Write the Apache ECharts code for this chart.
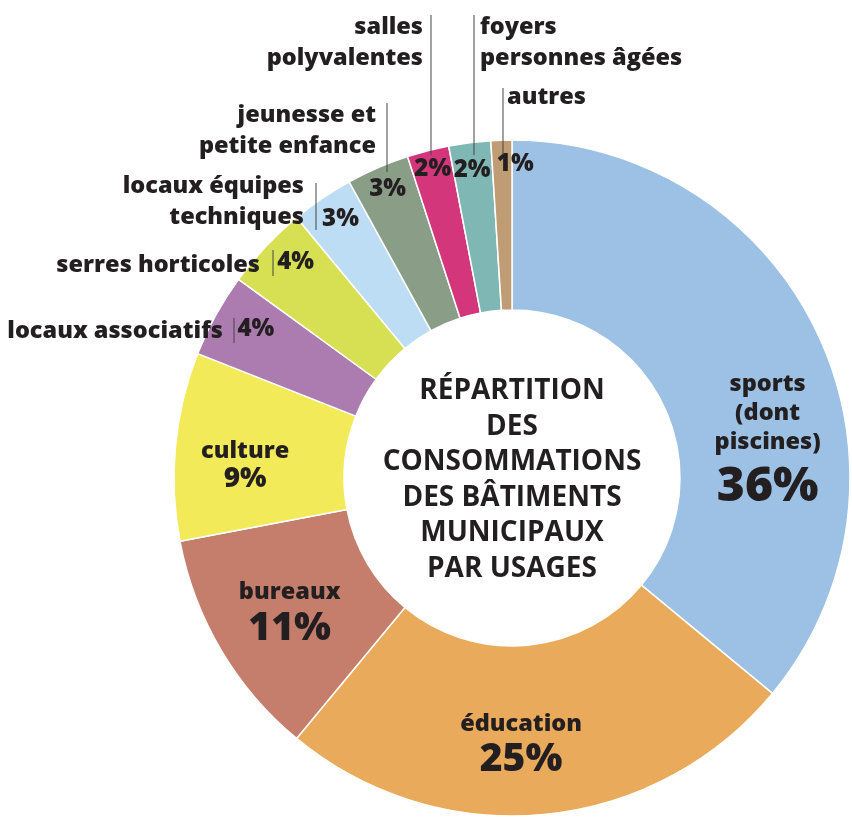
<!DOCTYPE html>
<html>
<head>
<meta charset="utf-8">
<script src="https://cdn.jsdelivr.net/npm/echarts@6/dist/echarts.min.js"></script>
<style>
  html, body { margin: 0; padding: 0; background: #fff; }
  #echarts { width: 852px; height: 828px; }
</style>
</head>
<body>
<div id="echarts"></div>
<script>
// Données (pourcentages par usage)
var categories = ['sports (dont piscines)', 'éducation', 'bureaux', 'culture', 'locaux associatifs',
    'serres horticoles', 'locaux équipes techniques', 'jeunesse et petite enfance',
    'salles polyvalentes', 'foyers personnes âgées', 'autres'];
var values = [36, 25, 11, 9, 4, 4, 3, 3, 2, 2, 1];
// Libellés avec retours à la ligne, comme sur l'original
var labelNames = ['sports\n(dont\npiscines)', 'éducation', 'bureaux', 'culture', 'locaux associatifs',
    'serres horticoles', 'locaux équipes\ntechniques', 'jeunesse et\npetite enfance',
    'salles\npolyvalentes', 'foyers\npersonnes âgées', 'autres'];
var titleLines = ['RÉPARTITION', 'DES', 'CONSOMMATIONS', 'DES BÂTIMENTS', 'MUNICIPAUX', 'PAR USAGES'];

var colors = ['#9dc1e4', '#e9ab5b', '#c57d6c', '#f2ea58', '#ac7cb0', '#d7df52',
    '#bcddf3', '#8a9d86', '#d3367a', '#7fb7b5', '#bf9c73'];

var cx = 512, cy = 478;
var ink = '#231f20';
var labelFont = '"Open Sans", sans-serif';

// taille du pourcentage pour les grandes parts
var pctStyle = ['p50', 'p40', 'p40', 'p28'];
// décalages des étiquettes (dx, dy)
var bigOffsets = [[24, 75], [-15, 13], [-2, 6], [-12, 11]];
var smallOffsets = [[16, 1], [10, -3], [3, -2], [-1, -4], [-2, -8], [-1, 0], [13, -3]];

// position des noms pour les petites parts
var outerNames = [
    { i: 4, x: 223, y: 331, align: 'right' },
    { i: 5, x: 260, y: 265, align: 'right' },
    { i: 6, x: 304, y: 202, align: 'right' },
    { i: 7, x: 376, y: 131, align: 'right' },
    { i: 8, x: 423, y: 43, align: 'right' },
    { i: 9, x: 480, y: 43, align: 'left' },
    { i: 10, x: 507, y: 97, align: 'left' }
];
var leaderLines = [[234, 318, 343], [273, 250, 276], [316, 183, 230], [387, 103, 172],
    [431, 15, 155], [474, 15, 155], [503, 88, 155]];

var chart = echarts.init(document.getElementById('echarts'));

var mainData = values.map(function (v, i) {
    return {
        name: categories[i],
        value: v,
        itemStyle: { color: colors[i] },
        label: { show: i < 4 }
    };
});
var overlayData = values.map(function (v, i) {
    return {
        name: categories[i],
        value: v,
        label: { show: i >= 4 }
    };
});

var graphics = [];
outerNames.forEach(function (o) {
    graphics.push({
        type: 'text',
        silent: true,
        z: 100,
        style: {
            text: labelNames[o.i],
            x: o.x,
            y: o.y,
            align: o.align,
            verticalAlign: 'middle',
            fill: ink,
            fontFamily: labelFont,
            fontWeight: 800,
            fontSize: 23.5,
            lineHeight: 31
        }
    });
});
leaderLines.forEach(function (l) {
    graphics.push({
        type: 'line',
        silent: true,
        z: 100,
        shape: { x1: l[0], y1: l[1], x2: l[0], y2: l[2] },
        style: { stroke: '#444', lineWidth: 1 }
    });
});
graphics.push({
    type: 'text',
    silent: true,
    z: 100,
    style: {
        text: titleLines.join('\n'),
        x: cx,
        y: cy + 2,
        align: 'center',
        verticalAlign: 'middle',
        fill: ink,
        fontFamily: '"Open Sans", sans-serif',
        fontWeight: 'bold',
        fontSize: 28,
        lineHeight: 35.5
    }
});

var options = {
    backgroundColor: '#fff',
    animation: false,
    series: [
        {
            type: 'pie',
            center: [cx, cy],
            radius: [168, 338],
            startAngle: 90,
            clockwise: true,
            avoidLabelOverlap: false,
            silent: true,
            itemStyle: { borderColor: '#fff', borderWidth: 1.5 },
            label: {
                position: 'inside',
                color: ink,
                fontFamily: labelFont,
                formatter: function (p) {
                    return '{n|' + labelNames[p.dataIndex] + '}\n{' + pctStyle[p.dataIndex] + '|' + p.value + '%}';
                },
                rich: {
                    n: { fontSize: 23.5, fontWeight: 800, lineHeight: 29, color: ink, fontFamily: labelFont },
                    p50: { fontSize: 48, fontWeight: 800, lineHeight: 62, color: ink, fontFamily: labelFont },
                    p40: { fontSize: 39, fontWeight: 800, lineHeight: 44, color: ink, fontFamily: labelFont },
                    p28: { fontSize: 28, fontWeight: 800, lineHeight: 28, color: ink, fontFamily: labelFont }
                }
            },
            labelLine: { show: false },
            labelLayout: function (p) {
                var o = bigOffsets[p.dataIndex] || [0, 0];
                return { dx: o[0], dy: o[1] };
            },
            data: mainData
        },
        {
            type: 'pie',
            center: [cx, cy],
            radius: [280, 335],
            startAngle: 90,
            clockwise: true,
            avoidLabelOverlap: false,
            silent: true,
            itemStyle: { color: 'rgba(0,0,0,0)', borderWidth: 0 },
            label: {
                position: 'inside',
                color: ink,
                fontFamily: labelFont,
                fontWeight: 800,
                fontSize: 24,
                formatter: '{c}%'
            },
            labelLine: { show: false },
            labelLayout: function (p) {
                var o = smallOffsets[p.dataIndex - 4] || [0, 0];
                return { dx: o[0], dy: o[1] };
            },
            data: overlayData
        }
    ],
    graphic: graphics
};

chart.setOption(options);
</script>
</body>
</html>
